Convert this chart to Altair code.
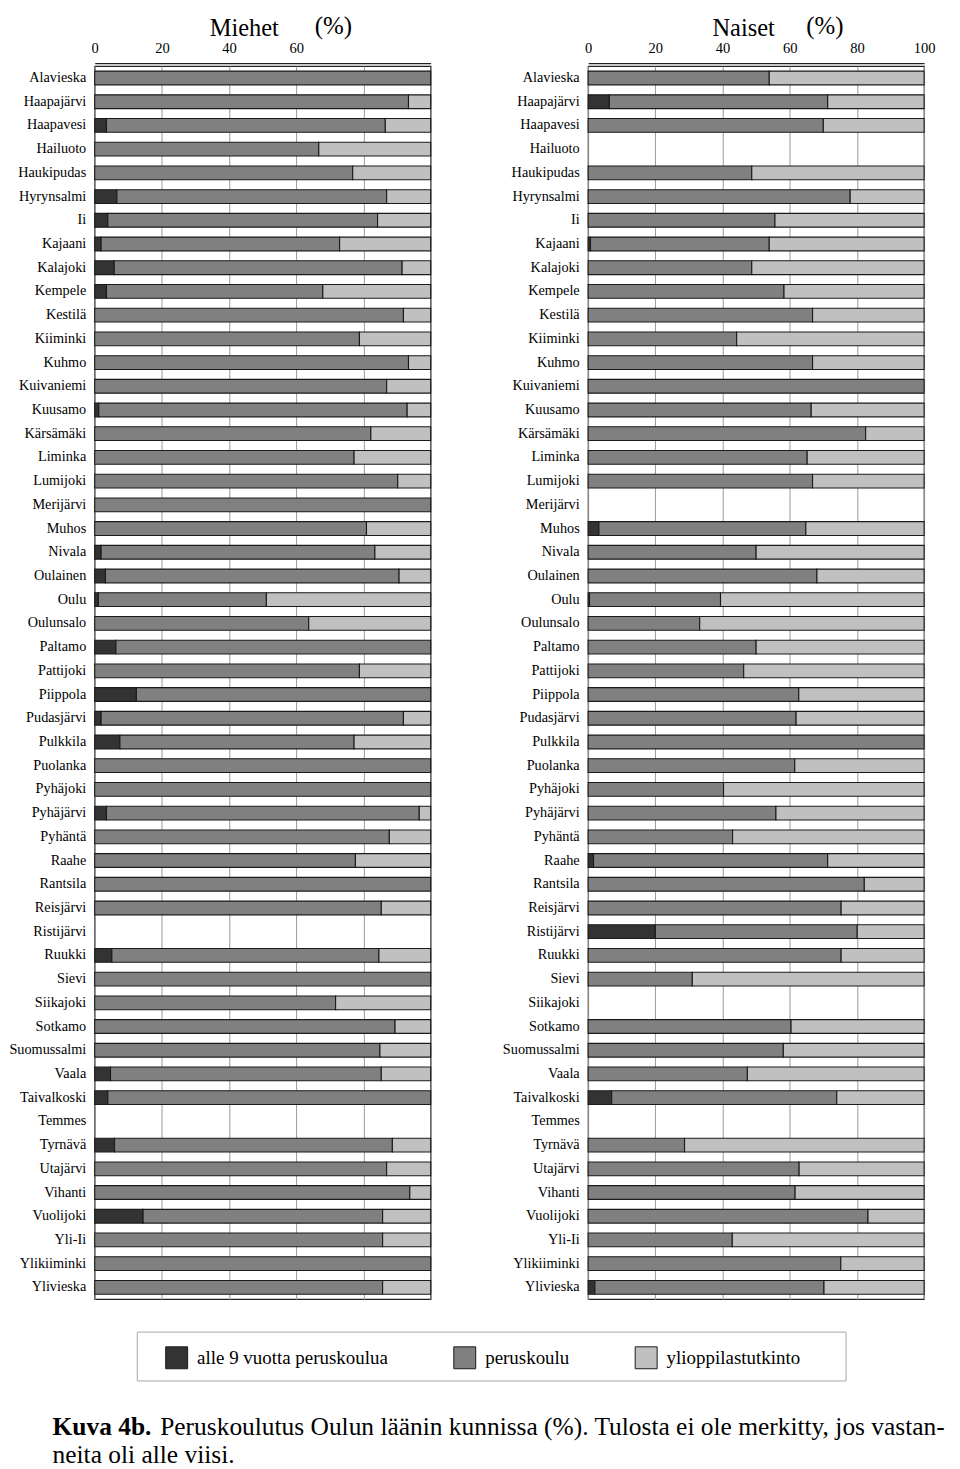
import altair as alt
import pandas as pd

kunnat = ["Alavieska", "Haapajärvi", "Haapavesi", "Hailuoto", "Haukipudas", "Hyrynsalmi", "Ii",
          "Kajaani", "Kalajoki", "Kempele", "Kestilä", "Kiiminki", "Kuhmo", "Kuivaniemi", "Kuusamo",
          "Kärsämäki", "Liminka", "Lumijoki", "Merijärvi", "Muhos", "Nivala", "Oulainen", "Oulu",
          "Oulunsalo", "Paltamo", "Pattijoki", "Piippola", "Pudasjärvi", "Pulkkila", "Puolanka",
          "Pyhäjoki", "Pyhäjärvi", "Pyhäntä", "Raahe", "Rantsila", "Reisjärvi", "Ristijärvi", "Ruukki",
          "Sievi", "Siikajoki", "Sotkamo", "Suomussalmi", "Vaala", "Taivalkoski", "Temmes", "Tyrnävä",
          "Utajärvi", "Vihanti", "Vuolijoki", "Yli-Ii", "Ylikiiminki", "Ylivieska"]

luokat = ["alle 9 vuotta peruskoulua", "peruskoulu", "ylioppilastutkinto"]
varit = ["#333333", "#808080", "#c0c0c0"]

# Miehet (%), None = not shown (fewer than five respondents)
miehet_alle9 = [0, 0, 3.5, 0, 0, 6.6, 3.9, 1.9, 5.8, 3.5, 0, 0, 0, 0, 1.2, 0, 0, 0, 0, 0, 1.9, 3.2, 1.1,
                0, 6.3, 0, 12.4, 1.9, 7.5, 0, 0, 3.5, 0, 0, 0, 0, None, 5.1, 0, 0, 0, 0, 4.7, 3.9, None,
                5.9, 0, 0, 14.4, 0, 0, 0]
miehet_perus = [100, 93.4, 83.0, 66.7, 76.8, 80.3, 80.3, 71.0, 85.7, 64.4, 91.9, 78.8, 93.4, 86.9, 91.8,
                82.2, 77.2, 90.2, 100, 80.9, 81.5, 87.4, 50.0, 63.7, 93.7, 78.8, 87.6, 90.0, 69.7, 100,
                100, 93.1, 87.7, 77.6, 100, 85.3, None, 79.5, 100, 71.7, 89.4, 84.9, 80.6, 96.1, None,
                82.7, 86.9, 93.8, 71.3, 85.7, 100, 85.7]
miehet_yo = [0, 6.6, 13.5, 33.3, 23.2, 13.1, 15.8, 27.1, 8.5, 32.1, 8.1, 21.2, 6.6, 13.1, 7.0, 17.8, 22.8,
             9.8, 0, 19.1, 16.6, 9.4, 48.9, 36.3, 0, 21.2, 0, 8.1, 22.8, 0, 0, 3.4, 12.3, 22.4, 0, 14.7,
             None, 15.4, 0, 28.3, 10.6, 15.1, 14.7, 0, None, 11.4, 13.1, 6.2, 14.3, 14.3, 0, 14.3]

# Naiset (%)
naiset_alle9 = [0, 6.3, 0, None, 0, 0, 0, 0.7, 0, 0, 0, 0, 0, 0, 0, 0, 0, 0, None, 3.2, 0, 0, 0.4, 0, 0,
                0, 0, 0, 0, 0, 0, 0, 0, 1.6, 0, 0, 20.0, 0, 0, None, 0, 0, 0, 7.0, None, 0, 0, 0, 0, 0,
                0, 2.0]
naiset_perus = [53.9, 65.0, 70.0, None, 48.7, 78.0, 55.6, 53.2, 48.7, 58.3, 66.8, 44.2, 66.8, 100, 66.4,
                82.6, 65.2, 66.8, None, 61.6, 50.0, 68.1, 39.0, 33.2, 50.0, 46.3, 62.7, 61.9, 100, 61.5,
                40.3, 55.9, 43.0, 69.7, 82.2, 75.3, 60.1, 75.3, 31.0, None, 60.4, 58.1, 47.4, 67.0, None,
                28.7, 62.8, 61.6, 83.3, 42.9, 75.2, 68.2]
naiset_yo = [46.1, 28.7, 30.0, None, 51.3, 22.0, 44.4, 46.1, 51.3, 41.7, 33.2, 55.8, 33.2, 0, 33.6, 17.4,
             34.8, 33.2, None, 35.2, 50.0, 31.9, 60.6, 66.8, 50.0, 53.7, 37.3, 38.1, 0, 38.5, 59.7,
             44.1, 57.0, 28.7, 17.8, 24.7, 19.9, 24.7, 69.0, None, 39.6, 41.9, 52.6, 26.0, None, 71.3,
             37.2, 38.4, 16.7, 57.1, 24.8, 29.8]


def build(alle9, perus, yo):
    rows = []
    for i, k in enumerate(kunnat):
        for j, vals in enumerate([alle9, perus, yo]):
            v = vals[i]
            if v is None or v <= 0:
                continue
            rows.append({"kunta": k, "luokka": luokat[j], "jarj": j, "arvo": v})
    return pd.DataFrame(rows)


df_m = build(miehet_alle9, miehet_perus, miehet_yo)
df_n = build(naiset_alle9, naiset_perus, naiset_yo)

FONT = "Liberation Serif"
W, H = 337, 1237

legend = alt.Legend(orient="none", legendX=70.7, legendY=1284, direction="horizontal", title=None,
                    symbolType="square", symbolSize=484, symbolStrokeColor="#1a1a1a",
                    symbolStrokeWidth=1, labelFont=FONT, labelFontSize=19, labelColor="black",
                    labelLimit=500, columnPadding=63, labelOffset=9, padding=0, symbolOpacity=1)


def panel(df, show_upto, title, tx, ty, px, py):
    bars = alt.Chart(df).mark_bar(stroke="#1a1a1a", strokeWidth=1.1).encode(
        x=alt.X("arvo:Q", stack="zero", scale=alt.Scale(domain=[0, 100], nice=False),
                axis=alt.Axis(orient="top", title=None, values=[0, 20, 40, 60, 80, 100], grid=True,
                              gridColor="#9a9a9a", gridWidth=1, ticks=False, tickSize=0,
                              domain=True, domainColor="#222", domainWidth=1.3, offset=3,
                              labelPadding=8, labelFlush=False, labelFontSize=14.6,
                              labelExpr=f"datum.value <= {show_upto} ? datum.label : ''")),
        y=alt.Y("kunta:N", sort=kunnat,
                scale=alt.Scale(domain=kunnat, paddingInner=0.42, paddingOuter=0.21),
                axis=alt.Axis(title=None, domain=False, ticks=False, tickSize=0, labelPadding=9,
                              labelFontSize=14.3, labelLimit=300, grid=False)),
        color=alt.Color("luokka:N", scale=alt.Scale(domain=luokat, range=varit), legend=legend),
        order=alt.Order("jarj:Q"),
    )
    t1 = alt.Chart(pd.DataFrame({"t": [title]})).mark_text(
        font=FONT, fontSize=24.5, align="center", baseline="alphabetic", color="black"
    ).encode(text="t:N", x=alt.value(tx), y=alt.value(ty))
    t2 = alt.Chart(pd.DataFrame({"t": ["(%)"]})).mark_text(
        font=FONT, fontSize=25, align="center", baseline="alphabetic", color="black"
    ).encode(text="t:N", x=alt.value(px), y=alt.value(py))
    return bars, t1, t2


bm, tm1, tm2 = panel(df_m, 60, "Miehet", 150, -30, 239.5, -32)
bn, tn1, tn2 = panel(df_n, 100, "Naiset", 156, -30, 237.5, -32)

legend_box = alt.Chart(pd.DataFrame({"a": [0]})).mark_rect(
    fill="white", stroke="#a8a8a8", strokeWidth=1
).encode(x=alt.value(42.7), x2=alt.value(753.7), y=alt.value(1270), y2=alt.value(1319))

CAP = 25.5
cap_bold = alt.Chart(pd.DataFrame({"t": ["Kuva 4b."]})).mark_text(
    font=FONT, fontSize=CAP, fontWeight="bold", align="left", baseline="alphabetic", color="black"
).encode(text="t:N", x=alt.value(-42.3), y=alt.value(1373))
cap_1 = alt.Chart(pd.DataFrame({"t": ["Peruskoulutus Oulun läänin kunnissa (%). Tulosta ei ole merkitty, jos vastan-"]})).mark_text(
    font=FONT, fontSize=CAP, align="left", baseline="alphabetic", color="black"
).encode(text="t:N", x=alt.value(65.7), y=alt.value(1373))
cap_2 = alt.Chart(pd.DataFrame({"t": ["neita oli alle viisi."]})).mark_text(
    font=FONT, fontSize=CAP, align="left", baseline="alphabetic", color="black"
).encode(text="t:N", x=alt.value(-42.3), y=alt.value(1401))

left = alt.layer(legend_box, bm, tm1, tm2, cap_bold, cap_1, cap_2).properties(width=W, height=H)
right = alt.layer(bn, tn1, tn2).properties(width=W, height=H)

chart = alt.hconcat(left, right, spacing=158, bounds="flush").properties(
    padding={"left": 0, "top": 3, "right": 5, "bottom": 0}
).configure_view(stroke="#222", strokeWidth=1.3).configure_axis(
    labelFont=FONT, labelColor="black"
).configure_text(font=FONT)

chart.save("out.html", embed_options={"renderer": "svg", "actions": False})
